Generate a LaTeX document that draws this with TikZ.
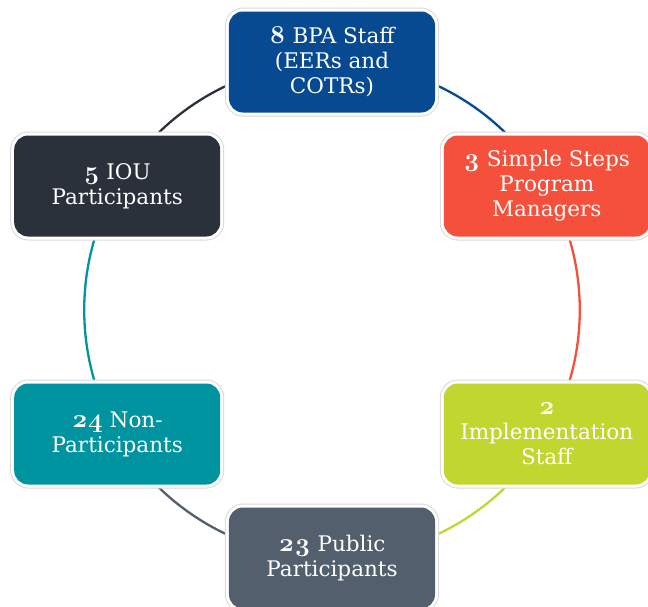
\documentclass[tikz,border=0pt]{standalone}
\usepackage{fontspec}
\setmainfont{DejaVu Serif}
\newfontfamily\numfont[Numbers=OldStyle, Scale=1.2]{Latin Modern Roman}
\newcommand{\cnt}[1]{{\numfont\bfseries #1}}
\usetikzlibrary{backgrounds}

\definecolor{bpaBlue}{HTML}{084A92}
\definecolor{sssRed}{HTML}{F4503B}
\definecolor{implGreen}{HTML}{C1D730}
\definecolor{pubSlate}{HTML}{535F6C}
\definecolor{nonTeal}{HTML}{0093A0}
\definecolor{iouDark}{HTML}{2A313B}

\tikzset{
  group/.style={rounded corners=14pt, minimum width=206pt, minimum height=101pt,
    text=white, align=center, font=\fontsize{21.5}{25}\selectfont,
    draw=black!15, line width=8pt,
    postaction={draw=white, line width=6pt},
    postaction={fill=#1}},
  ring/.style={draw=#1, line width=2.3pt, bend left=30, looseness=0.91}
}

\begin{document}
\begin{tikzpicture}
  \useasboundingbox (-332pt,-296pt) rectangle (316pt,310pt);

  % Boxes
  \node[group=bpaBlue] (bpa) at (90:248pt) {\cnt{8} BPA Staff\\(EERs and\\COTRs)};
  \node[group=sssRed] (sss) at (30:248pt) {\cnt{3} Simple Steps\\Program\\Managers};
  \node[group=implGreen] (impl) at (-30:248pt) {\cnt{2}\\Implementation\\Staff};
  \node[group=pubSlate] (pub) at (-90:248pt) {\cnt{23} Public\\Participants};
  \node[group=nonTeal] (non) at (-150:248pt) {\cnt{24} Non-\\Participants};
  \node[group=iouDark] (iou) at (150:248pt) {\cnt{5} IOU\\Participants};

  % Ring
  \begin{scope}[on background layer]
    \draw[ring=bpaBlue] (bpa.center) to (sss.center);
    \draw[ring=sssRed] (sss.center) to (impl.center);
    \draw[ring=implGreen] (impl.center) to (pub.center);
    \draw[ring=pubSlate] (pub.center) to (non.center);
    \draw[ring=nonTeal] (non.center) to (iou.center);
    \draw[ring=iouDark] (iou.center) to (bpa.center);
  \end{scope}
\end{tikzpicture}
\end{document}
